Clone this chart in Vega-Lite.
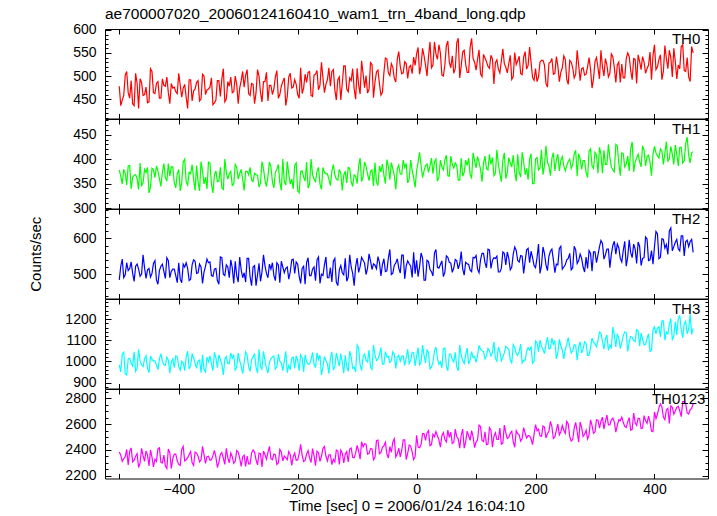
{
"$schema": "https://vega.github.io/schema/vega-lite/v6.json",
"background": "white",
"padding": {"left": 28, "top": 6, "right": 5, "bottom": 0},
"title": {"text": "ae700007020_20060124160410_wam1_trn_4band_long.qdp", "anchor": "start", "frame": "group", "fontSize": 15.5, "font": "Liberation Sans", "fontWeight": "normal", "color": "#000", "offset": 0, "dx": 0},
"data": {"values": [
{"t":-500,"a":478,"b":378,"c":484,"d":984,"e":2384},{"t":-497.5,"a":436,"b":365,"c":522,"d":950,"e":2360},
{"t":-495,"a":448,"b":349,"c":542,"d":1034,"e":2312},{"t":-492.5,"a":458,"b":379,"c":490,"d":1043,"e":2332},
{"t":-490,"a":502,"b":371,"c":498,"d":942,"e":2348},{"t":-487.5,"a":510,"b":347,"c":532,"d":936,"e":2404},
{"t":-485,"a":464,"b":386,"c":510,"d":1012,"e":2284},{"t":-482.5,"a":452,"b":387,"c":516,"d":1015,"e":2388},
{"t":-480,"a":490,"b":339,"c":534,"d":992,"e":2416},{"t":-477.5,"a":440,"b":363,"c":502,"d":978,"e":2308},
{"t":-475,"a":436,"b":367,"c":480,"d":1045,"e":2320},{"t":-472.5,"a":506,"b":368,"c":522,"d":953,"e":2352},
{"t":-470,"a":484,"b":360,"c":528,"d":967,"e":2372},{"t":-467.5,"a":430,"b":338,"c":514,"d":1057,"e":2264},
{"t":-465,"a":494,"b":392,"c":494,"d":1001,"e":2300},{"t":-462.5,"a":486,"b":346,"c":500,"d":984,"e":2412},
{"t":-460,"a":458,"b":351,"c":554,"d":975,"e":2356},{"t":-457.5,"a":460,"b":379,"c":518,"d":1012,"e":2312},
{"t":-455,"a":476,"b":373,"c":488,"d":1026,"e":2392},{"t":-452.5,"a":442,"b":383,"c":512,"d":967,"e":2360},
{"t":-450,"a":444,"b":331,"c":516,"d":947,"e":2276},{"t":-447.5,"a":516,"b":343,"c":492,"d":1026,"e":2400},
{"t":-445,"a":510,"b":381,"c":502,"d":1009,"e":2344},{"t":-442.5,"a":464,"b":378,"c":530,"d":1003,"e":2268},
{"t":-440,"a":462,"b":362,"c":538,"d":1003,"e":2328},{"t":-437.5,"a":484,"b":386,"c":484,"d":984,"e":2312},
{"t":-435,"a":488,"b":376,"c":472,"d":961,"e":2408},{"t":-432.5,"a":452,"b":360,"c":510,"d":1012,"e":2416},
{"t":-430,"a":452,"b":344,"c":522,"d":1037,"e":2304},{"t":-427.5,"a":494,"b":373,"c":528,"d":1001,"e":2300},
{"t":-425,"a":480,"b":391,"c":508,"d":984,"e":2360},{"t":-422.5,"a":478,"b":362,"c":488,"d":981,"e":2276},
{"t":-420,"a":498,"b":355,"c":546,"d":1020,"e":2256},{"t":-417.5,"a":464,"b":391,"c":538,"d":1006,"e":2408},
{"t":-415,"a":440,"b":365,"c":490,"d":945,"e":2380},{"t":-412.5,"a":484,"b":384,"c":508,"d":998,"e":2256},
{"t":-410,"a":474,"b":384,"c":514,"d":1012,"e":2332},{"t":-407.5,"a":476,"b":352,"c":514,"d":970,"e":2368},
{"t":-405,"a":466,"b":341,"c":496,"d":1026,"e":2368},{"t":-402.5,"a":462,"b":370,"c":476,"d":1023,"e":2316},
{"t":-400,"a":506,"b":379,"c":532,"d":975,"e":2288},{"t":-397.5,"a":480,"b":335,"c":486,"d":959,"e":2280},
{"t":-395,"a":454,"b":352,"c":476,"d":1001,"e":2404},{"t":-392.5,"a":474,"b":394,"c":528,"d":995,"e":2428},
{"t":-390,"a":482,"b":400,"c":520,"d":956,"e":2316},{"t":-387.5,"a":454,"b":354,"c":532,"d":1020,"e":2324},
{"t":-385,"a":430,"b":347,"c":516,"d":1048,"e":2340},{"t":-382.5,"a":492,"b":373,"c":482,"d":964,"e":2364},
{"t":-380,"a":492,"b":370,"c":486,"d":981,"e":2388},{"t":-377.5,"a":446,"b":389,"c":526,"d":1034,"e":2300},
{"t":-375,"a":468,"b":359,"c":540,"d":1017,"e":2280},{"t":-372.5,"a":472,"b":336,"c":536,"d":992,"e":2384},
{"t":-370,"a":486,"b":387,"c":502,"d":967,"e":2376},{"t":-367.5,"a":490,"b":354,"c":504,"d":1001,"e":2352},
{"t":-365,"a":446,"b":335,"c":528,"d":1006,"e":2308},{"t":-362.5,"a":450,"b":395,"c":520,"d":947,"e":2324},
{"t":-360,"a":504,"b":375,"c":474,"d":1031,"e":2428},{"t":-357.5,"a":500,"b":349,"c":506,"d":961,"e":2364},
{"t":-355,"a":460,"b":363,"c":522,"d":950,"e":2296},{"t":-352.5,"a":470,"b":339,"c":542,"d":1020,"e":2348},
{"t":-350,"a":472,"b":394,"c":532,"d":998,"e":2352},{"t":-347.5,"a":476,"b":392,"c":534,"d":1026,"e":2320},
{"t":-345,"a":496,"b":349,"c":496,"d":987,"e":2324},{"t":-342.5,"a":438,"b":331,"c":494,"d":956,"e":2356},
{"t":-340,"a":442,"b":368,"c":514,"d":1043,"e":2396},{"t":-337.5,"a":448,"b":376,"c":516,"d":1017,"e":2344},
{"t":-335,"a":490,"b":354,"c":482,"d":970,"e":2264},{"t":-332.5,"a":490,"b":355,"c":472,"d":1031,"e":2304},
{"t":-330,"a":456,"b":383,"c":548,"d":1009,"e":2364},{"t":-327.5,"a":494,"b":341,"c":546,"d":987,"e":2380},
{"t":-325,"a":516,"b":338,"c":500,"d":936,"e":2336},{"t":-322.5,"a":444,"b":400,"c":496,"d":1009,"e":2288},
{"t":-320,"a":450,"b":373,"c":526,"d":1023,"e":2412},{"t":-317.5,"a":488,"b":359,"c":520,"d":989,"e":2340},
{"t":-315,"a":478,"b":370,"c":490,"d":989,"e":2300},{"t":-312.5,"a":498,"b":375,"c":540,"d":1040,"e":2376},
{"t":-310,"a":464,"b":346,"c":518,"d":1015,"e":2348},{"t":-307.5,"a":466,"b":349,"c":474,"d":1029,"e":2296},
{"t":-305,"a":500,"b":389,"c":536,"d":959,"e":2312},{"t":-302.5,"a":482,"b":383,"c":496,"d":973,"e":2396},
{"t":-300,"a":440,"b":359,"c":478,"d":1040,"e":2384},{"t":-297.5,"a":474,"b":370,"c":548,"d":1003,"e":2336},
{"t":-295,"a":490,"b":379,"c":512,"d":978,"e":2272},{"t":-292.5,"a":510,"b":359,"c":490,"d":942,"e":2348},
{"t":-290,"a":476,"b":336,"c":504,"d":995,"e":2360},{"t":-287.5,"a":502,"b":375,"c":478,"d":1045,"e":2272},
{"t":-285,"a":514,"b":375,"c":544,"d":1029,"e":2352},{"t":-282.5,"a":462,"b":368,"c":544,"d":975,"e":2292},
{"t":-280,"a":458,"b":383,"c":492,"d":953,"e":2292},{"t":-277.5,"a":484,"b":357,"c":468,"d":1009,"e":2376},
{"t":-275,"a":482,"b":354,"c":520,"d":1020,"e":2400},{"t":-272.5,"a":440,"b":371,"c":524,"d":1037,"e":2384},
{"t":-270,"a":464,"b":368,"c":468,"d":973,"e":2324},{"t":-267.5,"a":514,"b":367,"c":498,"d":945,"e":2284},
{"t":-265,"a":500,"b":343,"c":530,"d":1057,"e":2376},{"t":-262.5,"a":464,"b":351,"c":480,"d":975,"e":2372},
{"t":-260,"a":444,"b":395,"c":506,"d":964,"e":2268},{"t":-257.5,"a":488,"b":381,"c":554,"d":1048,"e":2392},
{"t":-255,"a":488,"b":357,"c":524,"d":1003,"e":2364},{"t":-252.5,"a":508,"b":344,"c":502,"d":967,"e":2328},
{"t":-250,"a":446,"b":365,"c":490,"d":945,"e":2380},{"t":-247.5,"a":480,"b":394,"c":528,"d":995,"e":2428},
{"t":-245,"a":480,"b":384,"c":514,"d":1012,"e":2332},{"t":-242.5,"a":460,"b":354,"c":532,"d":1020,"e":2324},
{"t":-240,"a":472,"b":341,"c":496,"d":1026,"e":2368},{"t":-237.5,"a":498,"b":373,"c":482,"d":964,"e":2364},
{"t":-235,"a":512,"b":379,"c":532,"d":975,"e":2288},{"t":-232.5,"a":452,"b":389,"c":526,"d":1034,"e":2300},
{"t":-230,"a":460,"b":352,"c":476,"d":1001,"e":2404},{"t":-227.5,"a":478,"b":336,"c":536,"d":992,"e":2384},
{"t":-225,"a":488,"b":400,"c":520,"d":956,"e":2316},{"t":-222.5,"a":496,"b":354,"c":504,"d":1001,"e":2352},
{"t":-220,"a":436,"b":347,"c":516,"d":1048,"e":2340},{"t":-217.5,"a":456,"b":395,"c":520,"d":947,"e":2324},
{"t":-215,"a":498,"b":370,"c":486,"d":981,"e":2388},{"t":-212.5,"a":506,"b":349,"c":506,"d":961,"e":2364},
{"t":-210,"a":474,"b":359,"c":540,"d":1017,"e":2280},{"t":-207.5,"a":476,"b":339,"c":542,"d":1020,"e":2348},
{"t":-205,"a":492,"b":387,"c":502,"d":967,"e":2376},{"t":-202.5,"a":482,"b":392,"c":534,"d":1026,"e":2320},
{"t":-200,"a":460,"b":335,"c":528,"d":1006,"e":2323},{"t":-197.5,"a":452,"b":331,"c":494,"d":956,"e":2371},
{"t":-195,"a":518,"b":375,"c":474,"d":1031,"e":2443},{"t":-192.5,"a":462,"b":376,"c":516,"d":1017,"e":2359},
{"t":-190,"a":474,"b":363,"c":522,"d":950,"e":2311},{"t":-187.5,"a":504,"b":355,"c":472,"d":1031,"e":2319},
{"t":-185,"a":486,"b":394,"c":532,"d":998,"e":2367},{"t":-182.5,"a":508,"b":341,"c":546,"d":987,"e":2395},
{"t":-180,"a":510,"b":349,"c":496,"d":987,"e":2339},{"t":-177.5,"a":458,"b":400,"c":496,"d":1009,"e":2303},
{"t":-175,"a":456,"b":368,"c":514,"d":1043,"e":2411},{"t":-172.5,"a":502,"b":359,"c":520,"d":989,"e":2355},
{"t":-170,"a":504,"b":354,"c":482,"d":970,"e":2279},{"t":-167.5,"a":512,"b":375,"c":540,"d":1040,"e":2391},
{"t":-165,"a":470,"b":383,"c":548,"d":1009,"e":2379},{"t":-162.5,"a":480,"b":349,"c":474,"d":1029,"e":2311},
{"t":-160,"a":530,"b":338,"c":500,"d":936,"e":2351},{"t":-157.5,"a":496,"b":383,"c":496,"d":973,"e":2411},
{"t":-155,"a":464,"b":373,"c":526,"d":1023,"e":2427},{"t":-152.5,"a":482,"b":370,"c":548,"d":1003,"e":2351},
{"t":-150,"a":492,"b":370,"c":490,"d":989,"e":2315},{"t":-147.5,"a":518,"b":359,"c":490,"d":942,"e":2363},
{"t":-145,"a":478,"b":346,"c":518,"d":1015,"e":2363},{"t":-142.5,"a":510,"b":375,"c":478,"d":1045,"e":2287},
{"t":-140,"a":514,"b":389,"c":536,"d":959,"e":2327},{"t":-137.5,"a":470,"b":368,"c":544,"d":975,"e":2307},
{"t":-135,"a":448,"b":359,"c":478,"d":1040,"e":2399},{"t":-132.5,"a":492,"b":357,"c":468,"d":1009,"e":2391},
{"t":-130,"a":498,"b":379,"c":512,"d":978,"e":2287},{"t":-127.5,"a":448,"b":371,"c":524,"d":1037,"e":2399},
{"t":-125,"a":484,"b":336,"c":504,"d":995,"e":2375},{"t":-122.5,"a":522,"b":367,"c":498,"d":945,"e":2299},
{"t":-120,"a":522,"b":375,"c":544,"d":1029,"e":2367},{"t":-117.5,"a":472,"b":351,"c":480,"d":975,"e":2387},
{"t":-115,"a":466,"b":383,"c":492,"d":953,"e":2307},{"t":-112.5,"a":496,"b":381,"c":554,"d":1048,"e":2407},
{"t":-110,"a":490,"b":354,"c":520,"d":1020,"e":2415},{"t":-107.5,"a":516,"b":344,"c":502,"d":967,"e":2343},
{"t":-105,"a":472,"b":368,"c":468,"d":973,"e":2339},{"t":-102.5,"a":450,"b":365,"c":522,"d":950,"e":2375},
{"t":-100,"a":517,"b":350,"c":545,"d":1077,"e":2436},{"t":-97.5,"a":481,"b":386,"c":505,"d":1063,"e":2392},
{"t":-95,"a":461,"b":402,"c":521,"d":984,"e":2328},{"t":-92.5,"a":533,"b":354,"c":547,"d":956,"e":2464},
{"t":-90,"a":505,"b":364,"c":539,"d":1023,"e":2424},{"t":-87.5,"a":475,"b":394,"c":531,"d":1035,"e":2448},
{"t":-85,"a":501,"b":385,"c":499,"d":1004,"e":2444},{"t":-82.5,"a":463,"b":370,"c":517,"d":998,"e":2368},
{"t":-80,"a":471,"b":356,"c":557,"d":1054,"e":2372},{"t":-77.5,"a":529,"b":375,"c":537,"d":973,"e":2412},
{"t":-75,"a":525,"b":378,"c":513,"d":962,"e":2408},{"t":-72.5,"a":453,"b":345,"c":529,"d":1077,"e":2324},
{"t":-70,"a":487,"b":393,"c":525,"d":1032,"e":2344},{"t":-67.5,"a":509,"b":353,"c":515,"d":1004,"e":2472},
{"t":-65,"a":513,"b":346,"c":549,"d":1012,"e":2476},{"t":-62.5,"a":483,"b":386,"c":533,"d":1032,"e":2372},
{"t":-60,"a":459,"b":374,"c":495,"d":1065,"e":2380},{"t":-57.5,"a":465,"b":390,"c":527,"d":987,"e":2420},
{"t":-55,"a":507,"b":367,"c":543,"d":987,"e":2432},{"t":-52.5,"a":539,"b":350,"c":507,"d":1046,"e":2460},
{"t":-50,"a":537,"b":399,"c":509,"d":1021,"e":2370},{"t":-47.5,"a":507,"b":385,"c":545,"d":1023,"e":2338},
{"t":-45,"a":501,"b":358,"c":569,"d":995,"e":2426},{"t":-42.5,"a":527,"b":393,"c":499,"d":1004,"e":2382},
{"t":-40,"a":519,"b":380,"c":503,"d":1046,"e":2462},{"t":-37.5,"a":495,"b":367,"c":525,"d":1032,"e":2486},
{"t":-35,"a":487,"b":338,"c":531,"d":967,"e":2346},{"t":-32.5,"a":537,"b":380,"c":543,"d":1021,"e":2370},
{"t":-30,"a":553,"b":388,"c":517,"d":1029,"e":2414},{"t":-27.5,"a":521,"b":369,"c":503,"d":1001,"e":2346},
{"t":-25,"a":505,"b":369,"c":553,"d":1023,"e":2398},{"t":-22.5,"a":507,"b":398,"c":553,"d":1026,"e":2478},
{"t":-20,"a":531,"b":383,"c":487,"d":981,"e":2478},{"t":-17.5,"a":527,"b":391,"c":523,"d":1018,"e":2326},
{"t":-15,"a":495,"b":351,"c":537,"d":1057,"e":2374},{"t":-12.5,"a":519,"b":359,"c":529,"d":990,"e":2438},
{"t":-10,"a":523,"b":398,"c":523,"d":1004,"e":2430},{"t":-7.5,"a":505,"b":377,"c":491,"d":1043,"e":2386},
{"t":-5,"a":541,"b":362,"c":561,"d":1040,"e":2326},{"t":-2.5,"a":523,"b":342,"c":501,"d":979,"e":2350},
{"t":0,"a":548,"b":376,"c":539,"d":1023,"e":2514},{"t":2.5,"a":562,"b":394,"c":493,"d":1065,"e":2422},
{"t":5,"a":504,"b":414,"c":521,"d":984,"e":2418},{"t":7.5,"a":522,"b":387,"c":559,"d":995,"e":2442},
{"t":10,"a":560,"b":362,"c":545,"d":1077,"e":2526},{"t":12.5,"a":544,"b":376,"c":483,"d":1029,"e":2526},
{"t":15,"a":524,"b":387,"c":483,"d":993,"e":2474},{"t":17.5,"a":500,"b":390,"c":539,"d":1057,"e":2534},
{"t":20,"a":542,"b":373,"c":535,"d":1040,"e":2550},{"t":22.5,"a":574,"b":386,"c":513,"d":965,"e":2434},
{"t":25,"a":518,"b":402,"c":507,"d":973,"e":2442},{"t":27.5,"a":524,"b":370,"c":495,"d":995,"e":2522},
{"t":30,"a":574,"b":394,"c":559,"d":1049,"e":2502},{"t":32.5,"a":548,"b":400,"c":569,"d":1068,"e":2542},
{"t":35,"a":536,"b":355,"c":519,"d":1015,"e":2510},{"t":37.5,"a":568,"b":363,"c":517,"d":987,"e":2478},
{"t":40,"a":550,"b":398,"c":527,"d":998,"e":2422},{"t":42.5,"a":502,"b":384,"c":537,"d":970,"e":2510},
{"t":45,"a":500,"b":378,"c":493,"d":1060,"e":2534},{"t":47.5,"a":524,"b":398,"c":505,"d":1063,"e":2482},
{"t":50,"a":566,"b":408,"c":551,"d":979,"e":2462},{"t":52.5,"a":576,"b":366,"c":547,"d":956,"e":2554},
{"t":55,"a":530,"b":365,"c":533,"d":1035,"e":2498},{"t":57.5,"a":518,"b":406,"c":531,"d":1035,"e":2538},
{"t":60,"a":544,"b":389,"c":505,"d":1009,"e":2450},{"t":62.5,"a":506,"b":382,"c":517,"d":998,"e":2458},
{"t":65,"a":516,"b":392,"c":541,"d":1043,"e":2562},{"t":67.5,"a":572,"b":387,"c":537,"d":973,"e":2502},
{"t":70,"a":582,"b":357,"c":515,"d":956,"e":2486},{"t":72.5,"a":496,"b":357,"c":529,"d":1077,"e":2414},
{"t":75,"a":522,"b":402,"c":563,"d":1029,"e":2514},{"t":77.5,"a":552,"b":365,"c":515,"d":1004,"e":2562},
{"t":80,"a":556,"b":373,"c":497,"d":990,"e":2414},{"t":82.5,"a":526,"b":398,"c":533,"d":1032,"e":2462},
{"t":85,"a":508,"b":387,"c":529,"d":1063,"e":2546},{"t":87.5,"a":508,"b":402,"c":527,"d":987,"e":2510},
{"t":90,"a":562,"b":368,"c":511,"d":1007,"e":2474},{"t":92.5,"a":582,"b":362,"c":507,"d":1046,"e":2550},
{"t":95,"a":538,"b":413,"c":547,"d":1018,"e":2502},{"t":97.5,"a":530,"b":397,"c":545,"d":1023,"e":2418},
{"t":100,"a":513,"b":382,"c":552,"d":995,"e":2461},{"t":102.5,"a":537,"b":405,"c":514,"d":1029,"e":2477},
{"t":105,"a":557,"b":394,"c":504,"d":1076,"e":2593},{"t":107.5,"a":505,"b":379,"c":540,"d":1057,"e":2581},
{"t":110,"a":499,"b":354,"c":558,"d":1051,"e":2473},{"t":112.5,"a":547,"b":392,"c":558,"d":1046,"e":2465},
{"t":115,"a":539,"b":406,"c":532,"d":1012,"e":2541},{"t":117.5,"a":531,"b":381,"c":518,"d":1026,"e":2441},
{"t":120,"a":521,"b":378,"c":570,"d":1062,"e":2445},{"t":122.5,"a":517,"b":410,"c":568,"d":1051,"e":2573},
{"t":125,"a":545,"b":389,"c":516,"d":1026,"e":2553},{"t":127.5,"a":537,"b":403,"c":538,"d":1043,"e":2421},
{"t":130,"a":483,"b":366,"c":546,"d":1093,"e":2505},{"t":132.5,"a":529,"b":371,"c":544,"d":1015,"e":2533},
{"t":135,"a":535,"b":419,"c":550,"d":1001,"e":2481},{"t":137.5,"a":515,"b":389,"c":506,"d":1068,"e":2481},
{"t":140,"a":507,"b":371,"c":506,"d":1046,"e":2569},{"t":142.5,"a":533,"b":354,"c":516,"d":1004,"e":2445},
{"t":145,"a":559,"b":398,"c":562,"d":1020,"e":2453},{"t":147.5,"a":527,"b":413,"c":558,"d":1040,"e":2593},
{"t":150,"a":519,"b":360,"c":526,"d":1071,"e":2533},{"t":152.5,"a":507,"b":373,"c":562,"d":1065,"e":2489},
{"t":155,"a":527,"b":403,"c":544,"d":1057,"e":2497},{"t":157.5,"a":545,"b":392,"c":512,"d":1009,"e":2529},
{"t":160,"a":493,"b":384,"c":520,"d":990,"e":2545},{"t":162.5,"a":499,"b":408,"c":556,"d":1079,"e":2465},
{"t":165,"a":551,"b":374,"c":576,"d":1065,"e":2421},{"t":167.5,"a":525,"b":355,"c":566,"d":1037,"e":2549},
{"t":170,"a":533,"b":410,"c":538,"d":1029,"e":2525},{"t":172.5,"a":543,"b":373,"c":534,"d":1046,"e":2517},
{"t":175,"a":505,"b":363,"c":552,"d":1082,"e":2469},{"t":177.5,"a":503,"b":414,"c":550,"d":992,"e":2489},
{"t":180,"a":541,"b":395,"c":502,"d":1006,"e":2573},{"t":182.5,"a":553,"b":368,"c":536,"d":1006,"e":2529},
{"t":185,"a":515,"b":381,"c":568,"d":1048,"e":2493},{"t":187.5,"a":523,"b":358,"c":572,"d":1065,"e":2513},
{"t":190,"a":563,"b":400,"c":532,"d":1054,"e":2509},{"t":192.5,"a":529,"b":411,"c":564,"d":1071,"e":2485},
{"t":195,"a":497,"b":350,"c":546,"d":992,"e":2441},{"t":197.5,"a":491,"b":350,"c":524,"d":1001,"e":2521},
{"t":200,"a":516,"b":400,"c":518,"d":1096,"e":2597},{"t":202.5,"a":488,"b":403,"c":546,"d":1087,"e":2549},
{"t":205,"a":498,"b":378,"c":584,"d":1045,"e":2561},{"t":207.5,"a":530,"b":382,"c":502,"d":1101,"e":2509},
{"t":210,"a":534,"b":419,"c":524,"d":1071,"e":2505},{"t":212.5,"a":534,"b":368,"c":576,"d":1057,"e":2585},
{"t":215,"a":524,"b":387,"c":558,"d":1037,"e":2577},{"t":217.5,"a":484,"b":427,"c":526,"d":1079,"e":2493},
{"t":220,"a":476,"b":394,"c":510,"d":1115,"e":2525},{"t":222.5,"a":528,"b":386,"c":550,"d":1059,"e":2545},
{"t":225,"a":530,"b":366,"c":564,"d":1062,"e":2621},{"t":227.5,"a":538,"b":402,"c":570,"d":1110,"e":2581},
{"t":230,"a":504,"b":413,"c":540,"d":1082,"e":2489},{"t":232.5,"a":506,"b":376,"c":504,"d":1099,"e":2501},
{"t":235,"a":542,"b":398,"c":528,"d":1012,"e":2553},{"t":237.5,"a":522,"b":410,"c":526,"d":1043,"e":2601},
{"t":240,"a":488,"b":376,"c":572,"d":1104,"e":2517},{"t":242.5,"a":508,"b":397,"c":578,"d":1073,"e":2541},
{"t":245,"a":518,"b":405,"c":514,"d":1054,"e":2589},{"t":247.5,"a":544,"b":386,"c":520,"d":1012,"e":2553},
{"t":250,"a":536,"b":376,"c":526,"d":1057,"e":2529},{"t":252.5,"a":492,"b":387,"c":540,"d":1082,"e":2621},
{"t":255,"a":482,"b":395,"c":544,"d":1113,"e":2601},{"t":257.5,"a":534,"b":400,"c":558,"d":1071,"e":2505},
{"t":260,"a":530,"b":381,"c":512,"d":1040,"e":2469},{"t":262.5,"a":518,"b":389,"c":518,"d":1051,"e":2481},
{"t":265,"a":496,"b":410,"c":578,"d":1079,"e":2569},{"t":267.5,"a":504,"b":418,"c":568,"d":1076,"e":2613},
{"t":270,"a":556,"b":365,"c":530,"d":1006,"e":2541},{"t":272.5,"a":524,"b":411,"c":538,"d":1068,"e":2461},
{"t":275,"a":490,"b":400,"c":556,"d":1093,"e":2617},{"t":277.5,"a":516,"b":379,"c":544,"d":1040,"e":2573},
{"t":280,"a":518,"b":397,"c":520,"d":1059,"e":2505},{"t":282.5,"a":502,"b":397,"c":506,"d":1093,"e":2521},
{"t":285,"a":504,"b":373,"c":548,"d":1085,"e":2553},{"t":287.5,"a":520,"b":362,"c":516,"d":1029,"e":2485},
{"t":290,"a":540,"b":416,"c":566,"d":1029,"e":2517},{"t":292.5,"a":514,"b":421,"c":558,"d":1065,"e":2633},
{"t":295,"a":474,"b":386,"c":508,"d":1110,"e":2589},{"t":297.5,"a":494,"b":381,"c":562,"d":1090,"e":2529},
{"t":300,"a":532,"b":414,"c":562,"d":1083,"e":2542},{"t":302.5,"a":540,"b":408,"c":532,"d":1069,"e":2634},
{"t":305,"a":518,"b":371,"c":554,"d":1100,"e":2630},{"t":307.5,"a":494,"b":424,"c":576,"d":1139,"e":2570},
{"t":310,"a":556,"b":410,"c":594,"d":1134,"e":2622},{"t":312.5,"a":520,"b":371,"c":586,"d":1097,"e":2654},
{"t":315,"a":500,"b":418,"c":542,"d":1058,"e":2562},{"t":317.5,"a":538,"b":389,"c":554,"d":1106,"e":2622},
{"t":320,"a":524,"b":389,"c":570,"d":1125,"e":2670},{"t":322.5,"a":498,"b":430,"c":570,"d":1052,"e":2594},
{"t":325,"a":506,"b":403,"c":518,"d":1078,"e":2594},{"t":327.5,"a":548,"b":384,"c":556,"d":1066,"e":2634},
{"t":330,"a":542,"b":378,"c":580,"d":1162,"e":2646},{"t":332.5,"a":518,"b":374,"c":592,"d":1125,"e":2618},
{"t":335,"a":486,"b":430,"c":556,"d":1069,"e":2538},{"t":337.5,"a":524,"b":427,"c":584,"d":1131,"e":2590},
{"t":340,"a":530,"b":392,"c":574,"d":1108,"e":2634},{"t":342.5,"a":486,"b":366,"c":544,"d":1061,"e":2626},
{"t":345,"a":526,"b":413,"c":534,"d":1089,"e":2654},{"t":347.5,"a":496,"b":411,"c":566,"d":1122,"e":2614},
{"t":350,"a":496,"b":384,"c":592,"d":1139,"e":2582},{"t":352.5,"a":538,"b":390,"c":522,"d":1136,"e":2574},
{"t":355,"a":550,"b":406,"c":548,"d":1047,"e":2618},{"t":357.5,"a":542,"b":376,"c":596,"d":1092,"e":2650},
{"t":360,"a":512,"b":421,"c":560,"d":1117,"e":2554},{"t":362.5,"a":492,"b":435,"c":546,"d":1114,"e":2558},
{"t":365,"a":538,"b":374,"c":584,"d":1097,"e":2686},{"t":367.5,"a":536,"b":394,"c":570,"d":1094,"e":2610},
{"t":370,"a":484,"b":402,"c":530,"d":1150,"e":2590},{"t":372.5,"a":546,"b":410,"c":590,"d":1145,"e":2646},
{"t":375,"a":532,"b":395,"c":578,"d":1072,"e":2642},{"t":377.5,"a":514,"b":384,"c":524,"d":1134,"e":2566},
{"t":380,"a":542,"b":427,"c":544,"d":1106,"e":2570},{"t":382.5,"a":530,"b":418,"c":546,"d":1078,"e":2666},
{"t":385,"a":506,"b":386,"c":604,"d":1080,"e":2626},{"t":387.5,"a":516,"b":405,"c":598,"d":1108,"e":2606},
{"t":390,"a":524,"b":408,"c":538,"d":1131,"e":2662},{"t":392.5,"a":552,"b":394,"c":540,"d":1047,"e":2618},
{"t":395,"a":492,"b":366,"c":566,"d":1052,"e":2546},{"t":397.5,"a":544,"b":410,"c":528,"d":1150,"e":2542},
{"t":400,"a":568,"b":426,"c":577,"d":1164,"e":2694},{"t":402.5,"a":514,"b":413,"c":619,"d":1130,"e":2642},
{"t":405,"a":520,"b":407,"c":613,"d":1158,"e":2678},{"t":407.5,"a":536,"b":402,"c":543,"d":1164,"e":2726},
{"t":410,"a":546,"b":421,"c":547,"d":1116,"e":2758},{"t":412.5,"a":492,"b":416,"c":599,"d":1192,"e":2734},
{"t":415,"a":510,"b":389,"c":597,"d":1192,"e":2654},{"t":417.5,"a":566,"b":412,"c":573,"d":1100,"e":2634},
{"t":420,"a":538,"b":436,"c":583,"d":1139,"e":2710},{"t":422.5,"a":516,"b":396,"c":555,"d":1130,"e":2722},
{"t":425,"a":556,"b":400,"c":621,"d":1175,"e":2606},{"t":427.5,"a":540,"b":426,"c":629,"d":1203,"e":2742},
{"t":430,"a":498,"b":410,"c":565,"d":1100,"e":2730},{"t":432.5,"a":560,"b":389,"c":577,"d":1122,"e":2678},
{"t":435,"a":532,"b":429,"c":589,"d":1187,"e":2702},{"t":437.5,"a":494,"b":410,"c":597,"d":1125,"e":2730},
{"t":440,"a":524,"b":386,"c":571,"d":1201,"e":2738},{"t":442.5,"a":516,"b":424,"c":565,"d":1218,"e":2702},
{"t":445,"a":564,"b":424,"c":607,"d":1150,"e":2658},{"t":447.5,"a":568,"b":392,"c":607,"d":1111,"e":2774},
{"t":450,"a":512,"b":397,"c":551,"d":1176,"e":2774},{"t":452.5,"a":510,"b":432,"c":591,"d":1190,"e":2758},
{"t":455,"a":540,"b":445,"c":595,"d":1131,"e":2686},{"t":457.5,"a":498,"b":408,"c":577,"d":1153,"e":2678},
{"t":460,"a":488,"b":392,"c":591,"d":1223,"e":2710},{"t":462.5,"a":564,"b":413,"c":597,"d":1128,"e":2722},
{"t":465,"a":550,"b":415,"c":561,"d":1156,"e":2758}
]},
"spacing": 0,
"bounds": "flush",
"vconcat": [
{"width": 603, "height": 89.5,
 "layer": [
  {"mark": {"type": "line", "color": "#ff0000", "strokeWidth": 1.2, "clip": true},
   "encoding": {
    "x": {"field": "t", "type": "quantitative", "scale": {"domain": [-524, 490], "nice": false, "zero": false},
          "axis": {"orient": "bottom", "values": [-500,-400,-300,-200,-100,0,100,200,300,400], "labels": false, "tickSize": -5, "title": null}},
    "y": {"field": "a", "type": "quantitative", "scale": {"domain": [408, 602], "nice": false, "zero": false},
          "axis": {"orient": "left", "format": "d", "values": [410,420,430,440,450,460,470,480,490,500,510,520,530,540,550,560,570,580,590,600], "labelExpr": "datum.value % 50 == 0 ? datum.label : ''", "tickSize": {"condition": {"test": "datum.value % 50 == 0", "value": -6}, "value": -3}, "labelPadding": 15, "title": null}}}},
  {"data": {"values": [{}]},
   "mark": {"type": "text", "text": "TH0", "align": "right", "baseline": "top", "dy": 3, "fontSize": 15, "font": "Liberation Sans", "color": "#000"},
   "encoding": {
    "x": {"datum": 477, "type": "quantitative", "axis": {"orient": "top", "values": [-500,-400,-300,-200,-100,0,100,200,300,400], "labels": false, "tickSize": -5, "title": null}},
    "y": {"datum": 602, "type": "quantitative", "axis": {"orient": "right", "values": [410,420,430,440,450,460,470,480,490,500,510,520,530,540,550,560,570,580,590,600], "labels": false, "tickSize": {"condition": {"test": "datum.value % 50 == 0", "value": -6}, "value": -3}, "title": null}}}}
 ],
 "resolve": {"axis": {"x": "independent", "y": "independent"}}},
{"width": 603, "height": 89.5,
 "layer": [
  {"mark": {"type": "line", "color": "#00ff00", "strokeWidth": 1.2, "clip": true},
   "encoding": {
    "x": {"field": "t", "type": "quantitative", "scale": {"domain": [-524, 490], "nice": false, "zero": false},
          "axis": {"orient": "bottom", "values": [-500,-400,-300,-200,-100,0,100,200,300,400], "labels": false, "tickSize": -5, "title": null}},
    "y": {"field": "b", "type": "quantitative", "scale": {"domain": [299, 482], "nice": false, "zero": false},
          "axis": {"orient": "left", "format": "d", "values": [300,310,320,330,340,350,360,370,380,390,400,410,420,430,440,450,460,470,480], "labelExpr": "datum.value % 50 == 0 ? datum.label : ''", "tickSize": {"condition": {"test": "datum.value % 50 == 0", "value": -6}, "value": -3}, "labelPadding": 15, "title": null}}}},
  {"data": {"values": [{}]},
   "mark": {"type": "text", "text": "TH1", "align": "right", "baseline": "top", "dy": 3, "fontSize": 15, "font": "Liberation Sans", "color": "#000"},
   "encoding": {
    "x": {"datum": 477, "type": "quantitative", "axis": {"orient": "top", "values": [-500,-400,-300,-200,-100,0,100,200,300,400], "labels": false, "tickSize": -5, "title": null}},
    "y": {"datum": 482, "type": "quantitative", "axis": {"orient": "right", "values": [300,310,320,330,340,350,360,370,380,390,400,410,420,430,440,450,460,470,480], "labels": false, "tickSize": {"condition": {"test": "datum.value % 50 == 0", "value": -6}, "value": -3}, "title": null}}}}
 ],
 "resolve": {"axis": {"x": "independent", "y": "independent"}}},
{"width": 603, "height": 89.5,
 "layer": [
  {"mark": {"type": "line", "color": "#0000ff", "strokeWidth": 1.2, "clip": true},
   "encoding": {
    "x": {"field": "t", "type": "quantitative", "scale": {"domain": [-524, 490], "nice": false, "zero": false},
          "axis": {"orient": "bottom", "values": [-500,-400,-300,-200,-100,0,100,200,300,400], "labels": false, "tickSize": -5, "title": null}},
    "y": {"field": "c", "type": "quantitative", "scale": {"domain": [432, 682], "nice": false, "zero": false},
          "axis": {"orient": "left", "format": "d", "values": [440,460,480,500,520,540,560,580,600,620,640,660,680], "labelExpr": "datum.value % 100 == 0 ? datum.label : ''", "tickSize": {"condition": {"test": "datum.value % 100 == 0", "value": -6}, "value": -3}, "labelPadding": 15, "title": "Counts/sec", "titlePadding": 29}}}},
  {"data": {"values": [{}]},
   "mark": {"type": "text", "text": "TH2", "align": "right", "baseline": "top", "dy": 3, "fontSize": 15, "font": "Liberation Sans", "color": "#000"},
   "encoding": {
    "x": {"datum": 477, "type": "quantitative", "axis": {"orient": "top", "values": [-500,-400,-300,-200,-100,0,100,200,300,400], "labels": false, "tickSize": -5, "title": null}},
    "y": {"datum": 682, "type": "quantitative", "axis": {"orient": "right", "values": [440,460,480,500,520,540,560,580,600,620,640,660,680], "labels": false, "tickSize": {"condition": {"test": "datum.value % 100 == 0", "value": -6}, "value": -3}, "title": null}}}}
 ],
 "resolve": {"axis": {"x": "independent", "y": "independent"}}},
{"width": 603, "height": 89.5,
 "layer": [
  {"mark": {"type": "line", "color": "#00ffff", "strokeWidth": 1.2, "clip": true},
   "encoding": {
    "x": {"field": "t", "type": "quantitative", "scale": {"domain": [-524, 490], "nice": false, "zero": false},
          "axis": {"orient": "bottom", "values": [-500,-400,-300,-200,-100,0,100,200,300,400], "labels": false, "tickSize": -5, "title": null}},
    "y": {"field": "d", "type": "quantitative", "scale": {"domain": [872, 1295], "nice": false, "zero": false},
          "axis": {"orient": "left", "format": "d", "values": [880,900,920,940,960,980,1000,1020,1040,1060,1080,1100,1120,1140,1160,1180,1200,1220,1240,1260,1280], "labelExpr": "datum.value % 100 == 0 ? datum.label : ''", "tickSize": {"condition": {"test": "datum.value % 100 == 0", "value": -6}, "value": -3}, "labelPadding": 15, "title": null}}}},
  {"data": {"values": [{}]},
   "mark": {"type": "text", "text": "TH3", "align": "right", "baseline": "top", "dy": 3, "fontSize": 15, "font": "Liberation Sans", "color": "#000"},
   "encoding": {
    "x": {"datum": 477, "type": "quantitative", "axis": {"orient": "top", "values": [-500,-400,-300,-200,-100,0,100,200,300,400], "labels": false, "tickSize": -5, "title": null}},
    "y": {"datum": 1295, "type": "quantitative", "axis": {"orient": "right", "values": [880,900,920,940,960,980,1000,1020,1040,1060,1080,1100,1120,1140,1160,1180,1200,1220,1240,1260,1280], "labels": false, "tickSize": {"condition": {"test": "datum.value % 100 == 0", "value": -6}, "value": -3}, "title": null}}}}
 ],
 "resolve": {"axis": {"x": "independent", "y": "independent"}}},
{"width": 603, "height": 89.5,
 "layer": [
  {"mark": {"type": "line", "color": "#ff00ff", "strokeWidth": 1.2, "clip": true},
   "encoding": {
    "x": {"field": "t", "type": "quantitative", "scale": {"domain": [-524, 490], "nice": false, "zero": false},
          "axis": {"orient": "bottom", "values": [-500,-400,-300,-200,-100,0,100,200,300,400], "labelExpr": "datum.value % 200 == 0 ? datum.label : ''", "labelPadding": 9, "tickSize": -5, "title": "Time [sec] 0 = 2006/01/24 16:04:10", "titlePadding": 2}},
    "y": {"field": "e", "type": "quantitative", "scale": {"domain": [2179, 2872], "nice": false, "zero": false},
          "axis": {"orient": "left", "format": "d", "values": [2200,2250,2300,2350,2400,2450,2500,2550,2600,2650,2700,2750,2800,2850], "labelExpr": "datum.value % 200 == 0 ? datum.label : ''", "tickSize": {"condition": {"test": "datum.value % 200 == 0", "value": -6}, "value": -3}, "labelPadding": 15, "title": null}}}},
  {"data": {"values": [{}]},
   "mark": {"type": "text", "text": "TH0123", "align": "right", "baseline": "top", "dy": 3, "fontSize": 15, "font": "Liberation Sans", "color": "#000"},
   "encoding": {
    "x": {"datum": 485.5, "type": "quantitative", "axis": {"orient": "top", "values": [-500,-400,-300,-200,-100,0,100,200,300,400], "labels": false, "tickSize": -5, "title": null}},
    "y": {"datum": 2872, "type": "quantitative", "axis": {"orient": "right", "values": [2200,2250,2300,2350,2400,2450,2500,2550,2600,2650,2700,2750,2800,2850], "labels": false, "tickSize": {"condition": {"test": "datum.value % 200 == 0", "value": -6}, "value": -3}, "title": null}}}}
 ],
 "resolve": {"axis": {"x": "independent", "y": "independent"}}}
],
"config": {
 "view": {"stroke": "#000", "strokeWidth": 1},
 "font": "Liberation Sans",
 "axis": {"domain": false, "grid": false, "tickColor": "#000", "tickWidth": 1, "labelColor": "#000", "labelFontSize": 14, "labelFont": "Liberation Sans", "titleFont": "Liberation Sans", "titleFontSize": 15, "titleFontWeight": "normal", "titleColor": "#000", "labelFlush": false, "labelOverlap": false}
}
}
